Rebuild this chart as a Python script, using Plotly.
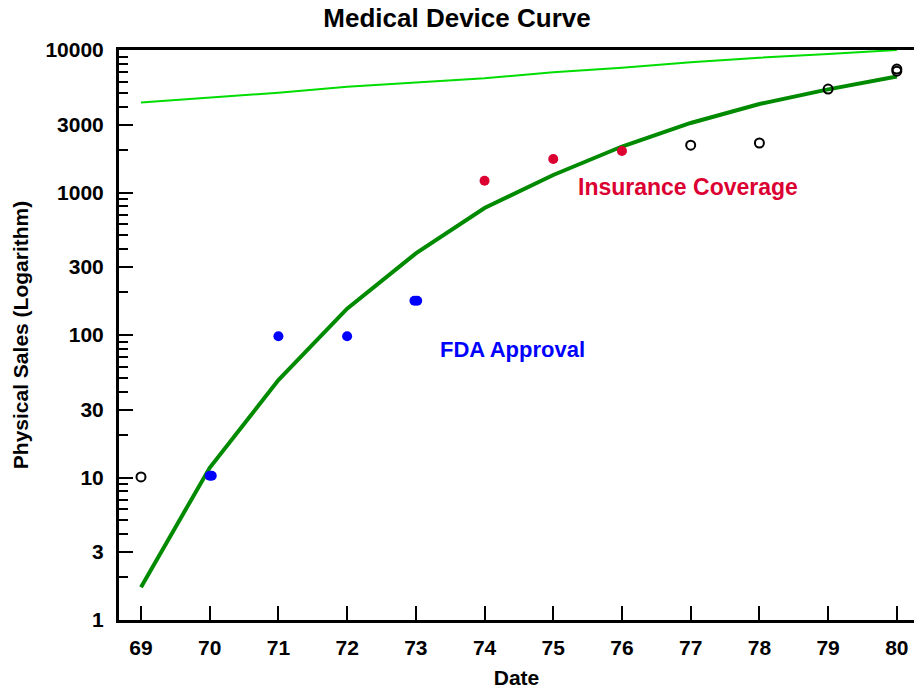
import plotly.graph_objects as go

# Years (two-digit) and sales values
years = [69, 70, 71, 72, 73, 74, 75, 76, 77, 78, 79, 80]
fitted_curve = [1.70, 11.7, 48.3, 153, 374, 778, 1327, 2103, 3075, 4180, 5295, 6515]
upper_curve = [4285, 4645, 5015, 5525, 5895, 6330, 6980, 7515, 8200, 8830, 9375, 10000]

other_x = [69, 77, 78, 79, 80, 80]
other_y = [10.1, 2150, 2225, 5320, 7350, 7100]

fda_x = [70, 70.03, 71, 72, 72.98, 73.02]
fda_y = [10.3, 10.3, 98, 98, 174, 174]

insurance_x = [74, 75, 76]
insurance_y = [1210, 1718, 1955]

y_tick_vals = [1, 3, 10, 30, 100, 300, 1000, 3000, 10000]
y_tick_text = ["1", "3", "10", "30", "100", "300", "1000", "3000", "10000"]
y_minor_vals = [m * 10 ** d for d in range(4) for m in (2, 4, 5, 6, 7, 8, 9)]

FONT = "Liberation Sans"
DARK_GREEN = "#008a00"
LIGHT_GREEN = "#00dd00"
BLUE = "#0000ff"
RED = "#dc0032"

fig = go.Figure()

fig.add_trace(go.Scatter(
    x=years, y=upper_curve, mode="lines",
    line=dict(color=LIGHT_GREEN, width=2), showlegend=False,
))
fig.add_trace(go.Scatter(
    x=years, y=fitted_curve, mode="lines",
    line=dict(color=DARK_GREEN, width=4), showlegend=False,
))
fig.add_trace(go.Scatter(
    x=other_x, y=other_y, mode="markers",
    marker=dict(symbol="circle-open", size=9, color="black", line=dict(width=2)),
    showlegend=False,
))
fig.add_trace(go.Scatter(
    x=fda_x, y=fda_y, mode="markers",
    marker=dict(symbol="circle", size=10, color=BLUE), showlegend=False,
))
fig.add_trace(go.Scatter(
    x=insurance_x, y=insurance_y, mode="markers",
    marker=dict(symbol="circle", size=10, color=RED), showlegend=False,
))

fig.add_annotation(
    x=74.41, y=1.895, xref="x", yref="y", text="FDA Approval", showarrow=False,
    font=dict(family=FONT, size=22, color=BLUE, weight="bold"),
)
fig.add_annotation(
    x=76.955, y=3.041, xref="x", yref="y", text="Insurance Coverage", showarrow=False,
    font=dict(family=FONT, size=23, color=RED, weight="bold"),
)

fig.update_layout(
    width=914, height=691,
    margin=dict(l=119, r=0, t=50, b=71),
    paper_bgcolor="white", plot_bgcolor="white",
    font=dict(family=FONT, size=21, color="black", weight="bold"),
    title=dict(
        text="Medical Device Curve", x=0.5, xref="container", xanchor="center",
        y=1 - 18 / 691, yref="container", yanchor="middle",
        font=dict(family=FONT, size=26, color="black", weight="bold"),
    ),
    xaxis=dict(
        range=[68.68, 80.25], tickvals=years, ticktext=[str(y) for y in years],
        ticks="inside", ticklen=14, tickwidth=2, tickcolor="black",
        ticklabelstandoff=7,
        tickfont=dict(family=FONT, size=21, color="black", weight="bold"),
        showline=True, linewidth=3, linecolor="black", mirror=True,
        showgrid=False, zeroline=False,
        title=dict(text="Date", standoff=13,
                   font=dict(family=FONT, size=21, weight="bold")),
    ),
    yaxis=dict(
        type="log", range=[0, 4], tickvals=y_tick_vals, ticktext=y_tick_text,
        ticks="inside", ticklen=14, tickwidth=2, tickcolor="black",
        ticklabelstandoff=8,
        tickfont=dict(family=FONT, size=21, color="black", weight="bold"),
        minor=dict(tickvals=y_minor_vals, ticks="inside", ticklen=9, tickwidth=2,
                   tickcolor="black", showgrid=False),
        showline=True, linewidth=3, linecolor="black", mirror=False,
        showgrid=False, zeroline=False,
        title=dict(text="Physical Sales (Logarithm)", standoff=12,
                   font=dict(family=FONT, size=21, weight="bold")),
    ),
)

fig.write_html("out.html")
